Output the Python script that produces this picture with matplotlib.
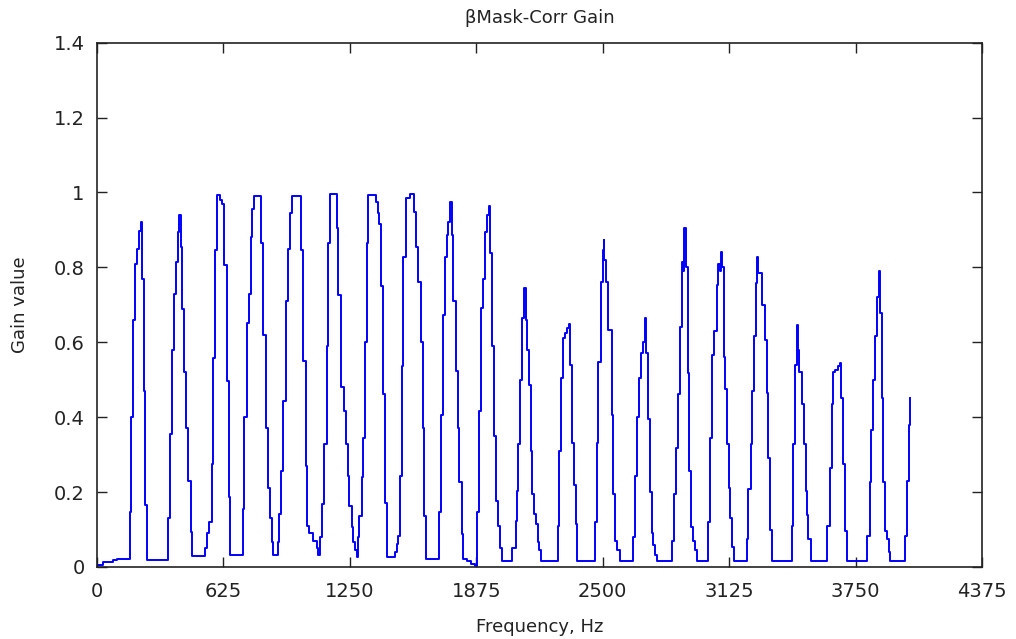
import numpy as np
import matplotlib
matplotlib.use('Agg')
import matplotlib.pyplot as plt

# Gain steps (frequency in Hz where each step starts, gain value)
freq = [
    0, 31, 81, 97,
    163, 168, 177, 188, 198, 206, 216, 223, 232, 239, 246,
    353, 361, 372, 381, 391, 399, 407, 414, 422, 432, 440, 451, 463, 471,
    534, 545, 555, 567, 572, 583, 595, 608, 620, 629, 641, 651, 659,
    720, 728, 740, 752, 760, 768, 778, 811, 822, 834, 844, 855, 864, 872,
    893, 901, 910, 921, 935, 943, 954, 963, 1007, 1020, 1033, 1037, 1048, 1070, 1086, 1094,
    1103, 1111, 1122, 1136, 1144, 1152, 1185, 1193, 1206, 1223, 1230, 1240, 1248, 1260, 1267, 1276, 1284,
    1289, 1297, 1309, 1317, 1325, 1334, 1341, 1378, 1388, 1394, 1404, 1416, 1424, 1432,
    1473, 1482, 1490, 1498, 1507, 1515, 1528, 1548, 1569, 1577, 1589, 1602, 1610, 1618, 1625,
    1693, 1701, 1712, 1721, 1729, 1737, 1747, 1754, 1762, 1774, 1784, 1791, 1803, 1808, 1830, 1849, 1868,
    1877, 1889, 1897, 1907, 1918, 1930, 1938, 1943, 1955, 1964, 1973, 1981, 1993, 2001,
    2050, 2070, 2075, 2083, 2092, 2100, 2113, 2120, 2126, 2135, 2144, 2152, 2162, 2171, 2179, 2186, 2194,
    2278, 2286, 2294, 2306, 2314, 2323, 2334, 2339, 2350, 2360, 2369, 2375,
    2462, 2471, 2479, 2491, 2499, 2504, 2508, 2517, 2528, 2545, 2553, 2561, 2570, 2586,
    2652, 2662, 2672, 2681, 2690, 2698, 2710, 2714, 2726, 2734, 2743, 2751, 2759, 2770,
    2845, 2853, 2861, 2874, 2883, 2891, 2899, 2904, 2912, 2921, 2929, 2937, 2948, 2957, 2965,
    3023, 3031, 3042, 3051, 3064, 3072, 3080, 3085, 3092, 3099, 3107, 3114, 3122, 3130, 3141, 3150,
    3212, 3220, 3232, 3240, 3249, 3257, 3265, 3270, 3290, 3300, 3311, 3319, 3328, 3339,
    3435, 3443, 3451, 3460, 3465, 3471, 3484, 3496, 3504, 3509, 3517, 3530,
    3608, 3625, 3633, 3641, 3649, 3661, 3674, 3679, 3687, 3699, 3707,
    3809, 3819, 3827, 3836, 3848, 3856, 3868, 3872, 3880, 3888, 3896, 3904, 3913, 3921,
    3995, 4004, 4012, 4020,
]
gain = [
    0.006, 0.012, 0.018, 0.022,
    0.148, 0.40, 0.66, 0.81, 0.85, 0.897, 0.92, 0.77, 0.47, 0.166, 0.019,
    0.13, 0.355, 0.58, 0.73, 0.815, 0.895, 0.94, 0.855, 0.69, 0.52, 0.37, 0.23, 0.094, 0.029,
    0.05, 0.09, 0.12, 0.276, 0.558, 0.846, 0.994, 0.98, 0.97, 0.806, 0.496, 0.186, 0.031,
    0.155, 0.40, 0.651, 0.73, 0.88, 0.957, 0.99, 0.864, 0.62, 0.372, 0.212, 0.132, 0.066, 0.031,
    0.066, 0.141, 0.257, 0.443, 0.709, 0.85, 0.944, 0.99, 0.846, 0.549, 0.27, 0.11, 0.09, 0.07, 0.05, 0.031,
    0.079, 0.168, 0.328, 0.589, 0.864, 0.995, 0.904, 0.727, 0.48, 0.416, 0.328, 0.243, 0.164, 0.106, 0.066, 0.045, 0.027,
    0.079, 0.137, 0.239, 0.345, 0.602, 0.864, 0.994, 0.975, 0.944, 0.917, 0.749, 0.461, 0.172, 0.027,
    0.039, 0.062, 0.084, 0.243, 0.536, 0.828, 0.985, 0.995, 0.948, 0.855, 0.762, 0.602, 0.372, 0.137, 0.022,
    0.146, 0.407, 0.673, 0.828, 0.886, 0.92, 0.975, 0.886, 0.709, 0.523, 0.372, 0.226, 0.088, 0.022, 0.015, 0.008, 0.003,
    0.146, 0.416, 0.691, 0.77, 0.895, 0.939, 0.964, 0.837, 0.589, 0.35, 0.177, 0.11, 0.05, 0.017,
    0.05, 0.124, 0.203, 0.328, 0.5, 0.664, 0.746, 0.66, 0.58, 0.487, 0.31, 0.195, 0.141, 0.115, 0.066, 0.045, 0.017,
    0.11, 0.31, 0.505, 0.611, 0.625, 0.638, 0.65, 0.54, 0.33, 0.22, 0.115, 0.017,
    0.12, 0.33, 0.548, 0.762, 0.846, 0.873, 0.82, 0.762, 0.633, 0.407, 0.195, 0.07, 0.045, 0.017,
    0.08, 0.243, 0.40, 0.505, 0.57, 0.6, 0.664, 0.57, 0.394, 0.199, 0.09, 0.058, 0.031, 0.017,
    0.07, 0.195, 0.319, 0.461, 0.642, 0.815, 0.79, 0.904, 0.80, 0.518, 0.257, 0.106, 0.07, 0.045, 0.017,
    0.12, 0.345, 0.567, 0.63, 0.753, 0.81, 0.79, 0.842, 0.80, 0.56, 0.474, 0.328, 0.212, 0.132, 0.053, 0.017,
    0.074, 0.208, 0.328, 0.469, 0.616, 0.757, 0.828, 0.784, 0.70, 0.607, 0.465, 0.292, 0.10, 0.017,
    0.11, 0.328, 0.54, 0.647, 0.58, 0.52, 0.434, 0.328, 0.203, 0.14, 0.074, 0.017,
    0.11, 0.265, 0.434, 0.52, 0.527, 0.536, 0.544, 0.45, 0.274, 0.097, 0.017,
    0.084, 0.226, 0.367, 0.50, 0.616, 0.72, 0.789, 0.678, 0.45, 0.226, 0.097, 0.074, 0.04, 0.017,
    0.084, 0.23, 0.38, 0.45,
]

xticks = [0, 625, 1250, 1875, 2500, 3125, 3750, 4375]
yticks = [0, 0.2, 0.4, 0.6, 0.8, 1.0, 1.2, 1.4]
ytick_labels = ['0', '0.2', '0.4', '0.6', '0.8', '1', '1.2', '1.4']

plt.rcParams['font.family'] = ['DejaVu Sans']

fig = plt.figure(figsize=(10.16, 6.39), dpi=100)
ax = fig.add_axes([0.0955, 0.1127, 0.871, 0.8206])

ax.step(freq, gain, where='post', color='blue', lw=1.4)

ax.set_xlim(0, 4375)
ax.set_ylim(0, 1.4)
ax.set_xticks(xticks)
ax.set_xticklabels([str(t) for t in xticks])
ax.set_yticks(yticks)
ax.set_yticklabels(ytick_labels)
ax.tick_params(direction='in', top=True, right=True, length=7, width=1,
               labelsize=14, colors='#222222')
ax.tick_params(axis='x', pad=11)
ax.tick_params(axis='y', pad=9)
for s in ax.spines.values():
    s.set_linewidth(1.2)
    s.set_color('#222222')

ax.set_title('βMask-Corr Gain', fontsize=13, pad=14, color='#222222')
ax.set_xlabel('Frequency, Hz', fontsize=13, labelpad=12, color='#222222')
ax.set_ylabel('Gain value', fontsize=13, labelpad=18, color='#222222')

fig.savefig('out.png', dpi=100)
